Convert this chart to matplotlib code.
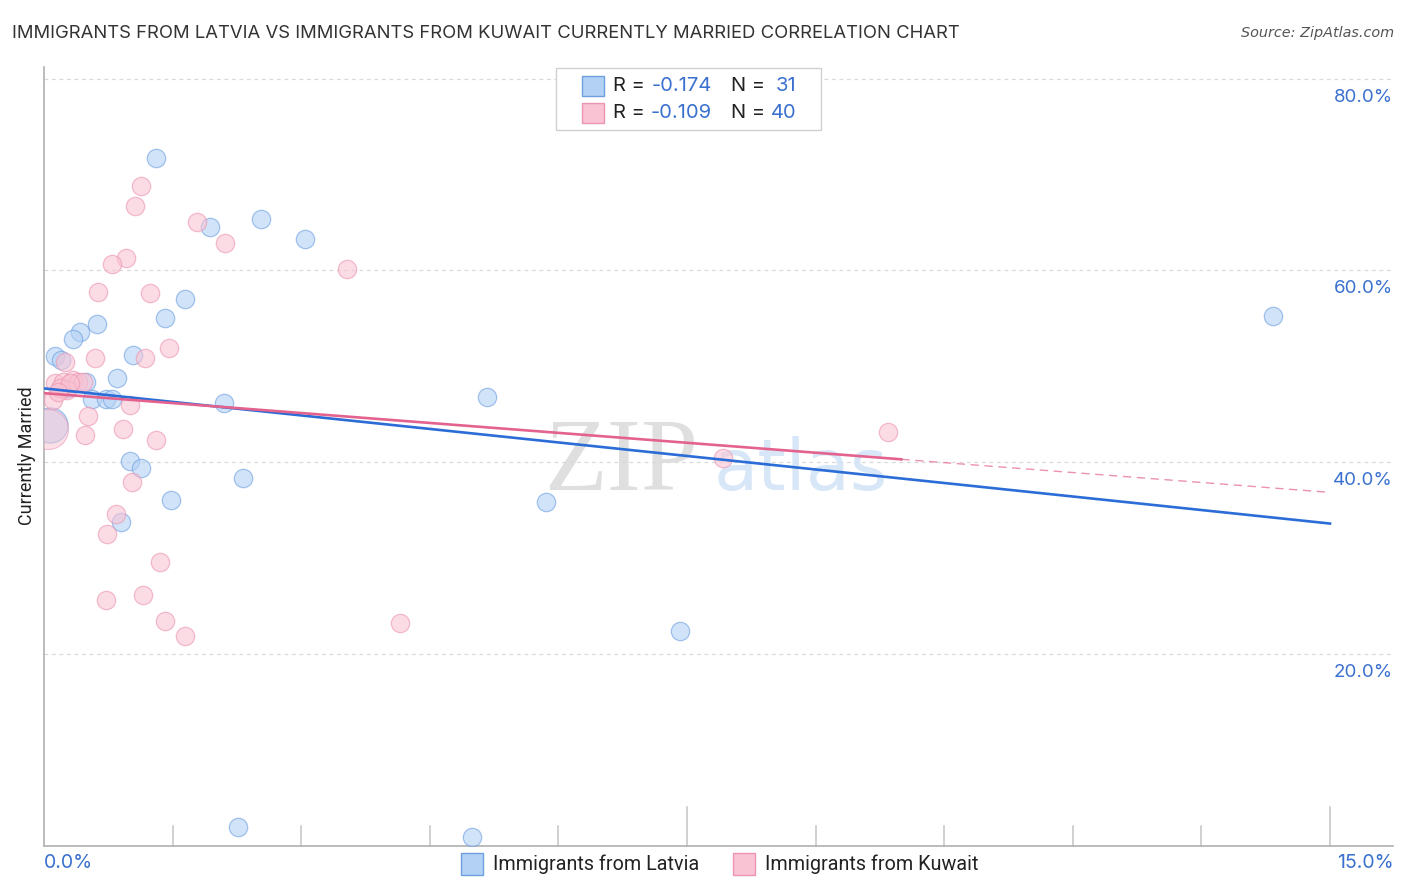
import numpy as np
import matplotlib
matplotlib.use("Agg")
import matplotlib.pyplot as plt
from matplotlib.patches import Rectangle

# values (x: percent immigrants, y: percent currently married)
latvia_x = [1.31, 1.94, 2.53, 3.04, 14.34, 1.64, 1.41, 0.62, 0.42, 0.34, 0.13, 0.20,
            1.04, 0.85, 0.49, 0.56, 0.72, 0.79, 2.10, 5.17, 1.00, 1.13, 2.32, 1.48,
            5.86, 0.90, 7.42, 2.26, 4.99, 0.27]
latvia_y = [71.7, 64.5, 65.4, 63.3, 55.3, 57.0, 55.0, 54.4, 53.6, 52.9, 51.1, 50.7,
            51.2, 48.8, 48.4, 46.6, 46.6, 46.6, 46.2, 46.8, 40.1, 39.4, 38.3, 36.1,
            35.8, 33.8, 22.4, 1.95, 0.9, 47.7]
latvia_big = (0.07, 43.9)

kuwait_x = [1.13, 1.06, 1.78, 2.11, 3.53, 0.96, 0.79, 0.63, 1.24, 1.46, 1.18, 0.60,
            0.25, 0.13, 0.22, 0.34, 0.40, 0.45, 0.27, 0.10, 1.00, 0.51, 0.92, 0.48,
            1.31, 1.03, 0.84, 0.73, 1.35, 0.72, 1.15, 1.41, 1.64, 4.15, 9.84, 7.92,
            0.19, 0.30, 0.16]
kuwait_y = [68.8, 66.7, 65.1, 62.9, 60.2, 61.3, 60.7, 57.8, 57.7, 51.9, 50.9, 50.9,
            50.5, 48.3, 48.4, 48.6, 48.4, 48.4, 47.5, 46.5, 46.0, 44.8, 43.5, 42.8,
            42.3, 37.9, 34.6, 32.5, 29.6, 25.6, 26.1, 23.4, 21.9, 23.2, 43.1, 40.4,
            47.7, 48.3, 47.3]
kuwait_big = (0.05, 43.5)

# trend lines (intercept, slope) and stats
latvia_fit = (47.7, -0.94)
kuwait_fit = (47.2, -0.69)
kuwait_fit_end = 10.0
latvia_r, latvia_n = "-0.174", "31"
kuwait_r, kuwait_n = "-0.109", "40"

y_ticks = [20, 40, 60, 80]
x_ticks = [1.5 * i for i in range(1, 11)]
x_max = 15.735
y_max = 81.23

W, H = 1406, 892
BLUE_FILL = "#b3d1f5"
BLUE_EDGE = "#6d9fe0"
BLUE_LINE = "#2b6cd6"
PINK_FILL = "#f9c3d3"
PINK_EDGE = "#ec95b2"
PINK_LINE = "#e4638e"
LABEL_BLUE = "#3a70cf"


def fx(px):
    return px / W


def fy(py):
    return 1 - py / H


fig = plt.figure(figsize=(W / 100, H / 100), dpi=100)
ax = fig.add_axes([fx(44), fy(845.6), fx(1393) - fx(44), fy(67) - fy(845.6)])
ax.set_xlim(0, x_max)
ax.set_ylim(0, y_max)

for v in y_ticks:
    ax.axhline(v, color="#d9d9d9", lw=0.9, ls=(0, (3, 3)), zorder=0)
    ax.text(x_max, v - 1.9, "%.1f%%" % v, ha="right", va="center",
            color=LABEL_BLUE, fontsize=13.5, family="Inter")

ax.set_xticks([])
ax.set_yticks([])
for s in ["top", "right"]:
    ax.spines[s].set_visible(False)
for s in ["left", "bottom"]:
    ax.spines[s].set_color("#b0b0b0")
    ax.spines[s].set_linewidth(1.2)

# inner ticks on the x axis
for t in x_ticks:
    frac = 0.05 if t in (7.5, 15.0) else 0.025
    ax.plot([t, t], [0, y_max * frac], color="#c4c4c4", lw=1.1, zorder=1,
            clip_on=False)

ax.scatter(latvia_x, latvia_y, s=175, facecolor=BLUE_FILL, edgecolor=BLUE_EDGE,
           linewidth=0.9, alpha=0.6, zorder=3)
ax.scatter([latvia_big[0]], [latvia_big[1]], s=640, facecolor=BLUE_FILL,
           edgecolor=BLUE_EDGE, linewidth=0.9, alpha=0.6, zorder=3)
ax.scatter(kuwait_x, kuwait_y, s=175, facecolor=PINK_FILL, edgecolor=PINK_EDGE,
           linewidth=0.9, alpha=0.6, zorder=3)
ax.scatter([kuwait_big[0]], [kuwait_big[1]], s=830, facecolor=PINK_FILL,
           edgecolor=PINK_EDGE, linewidth=0.9, alpha=0.5, zorder=3)

xs = np.array([0, 15.0])
ax.plot(xs, latvia_fit[0] + latvia_fit[1] * xs, color=BLUE_LINE, lw=1.9, zorder=4)
xk = np.array([0, kuwait_fit_end])
ax.plot(xk, kuwait_fit[0] + kuwait_fit[1] * xk, color=PINK_LINE, lw=1.9, zorder=4)
xd = np.array([kuwait_fit_end, 15.0])
ax.plot(xd, kuwait_fit[0] + kuwait_fit[1] * xd, color=PINK_LINE, lw=1.0,
        ls=(0, (6, 4)), alpha=0.7, zorder=4)

# watermark
ax.text(6.73, 37.1, "ZIP", fontsize=74, family="Liberation Serif", color="#d8d8d8",
        ha="center", va="baseline", zorder=2, alpha=0.8)
ax.text(8.83, 37.1, "atlas", fontsize=52, family="DejaVu Sans", color="#cfe1f6",
        ha="center", va="baseline", zorder=2, alpha=0.8)

# titles
fig.text(fx(12), fy(33), "IMMIGRANTS FROM LATVIA VS IMMIGRANTS FROM KUWAIT CURRENTLY MARRIED CORRELATION CHART",
         fontsize=13.3, family="Inter", color="#333333", va="center", ha="left")
fig.text(fx(1394), fy(33), "Source: ZipAtlas.com", fontsize=10.4, family="DejaVu Sans",
         style="italic", color="#555555", va="center", ha="right")
fig.text(fx(27), fy(456), "Currently Married", rotation=90, fontsize=13,
         family="Roboto", color="#222222", va="center", ha="center")

fig.text(fx(44), fy(863), "0.0%", fontsize=14, family="Inter", color=LABEL_BLUE,
         va="center", ha="left")
fig.text(fx(1394), fy(863), "15.0%", fontsize=14, family="Inter", color=LABEL_BLUE,
         va="center", ha="right")

# top legend box
fig.patches.append(Rectangle((fx(556), fy(130)), fx(821) - fx(556), fy(68) - fy(130),
                             transform=fig.transFigure, facecolor="white",
                             edgecolor="#d0d0d0", lw=1.0, zorder=5))
rows = [(86, BLUE_FILL, BLUE_EDGE, latvia_r, latvia_n),
        (113, PINK_FILL, PINK_EDGE, kuwait_r, kuwait_n)]
for yy, fc, ec, r, n in rows:
    fig.patches.append(Rectangle((fx(582), fy(yy + 10)), fx(22), fy(0) - fy(20),
                                 transform=fig.transFigure, facecolor=fc,
                                 edgecolor=ec, lw=1.0, zorder=6))
    fig.text(fx(613), fy(yy), "R = ", fontsize=14.5, family="Inter", color="#222222",
             va="center", ha="left", zorder=7)
    fig.text(fx(712), fy(yy), r, fontsize=14.5, family="Inter", color=LABEL_BLUE,
             va="center", ha="right", zorder=7)
    fig.text(fx(731), fy(yy), "N = ", fontsize=14.5, family="Inter", color="#222222",
             va="center", ha="left", zorder=7)
    fig.text(fx(796), fy(yy), n, fontsize=14.5, family="Inter", color=LABEL_BLUE,
             va="center", ha="right", zorder=7)

# bottom legend
bottom = [(461, BLUE_FILL, BLUE_EDGE, "Immigrants from Latvia"),
          (733, PINK_FILL, PINK_EDGE, "Immigrants from Kuwait")]
for x0, fc, ec, lab in bottom:
    fig.patches.append(Rectangle((fx(x0), fy(875)), fx(22), fy(0) - fy(22),
                                 transform=fig.transFigure, facecolor=fc,
                                 edgecolor=ec, lw=1.0))
    fig.text(fx(x0 + 32), fy(864), lab, fontsize=14.2, family="Roboto",
             color="#222222", va="center", ha="left")

fig.savefig("out.png", dpi=100)
